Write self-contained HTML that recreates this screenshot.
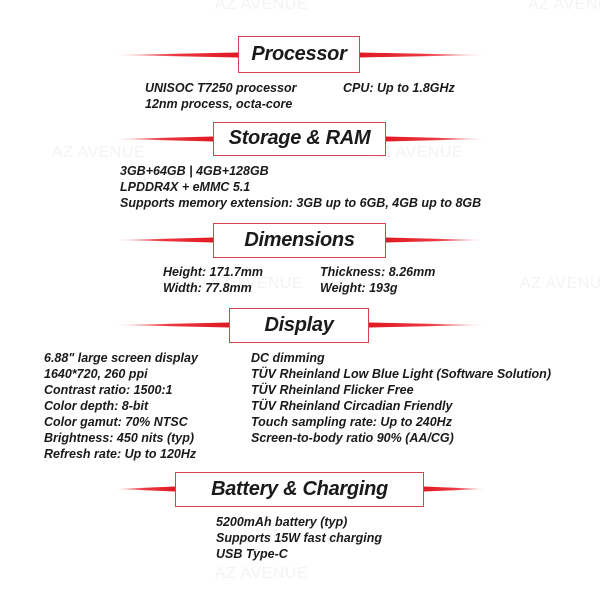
<!DOCTYPE html>
<html><head><meta charset="utf-8"><style>
body{margin:0;width:600px;height:600px;background:#fff;position:relative;overflow:hidden;font-family:"Liberation Sans",sans-serif;}
.t{position:absolute;font-weight:bold;font-style:italic;font-size:12.5px;line-height:16px;color:#1a1a1a;white-space:nowrap;letter-spacing:0px}
.box{position:absolute;border:1.5px solid #d8434f;box-sizing:border-box;background:#fff;text-align:center;font-weight:bold;font-style:italic;font-size:20px;color:#1a1a1a;letter-spacing:-0.3px}
.wm{position:absolute;font-size:16px;color:#f3f3f3;white-space:nowrap;letter-spacing:0.5px}
svg{position:absolute;left:0;top:0}
</style></head><body>
<div class="wm" style="left:215px;top:-4px">AZ AVENUE</div>
<div class="wm" style="left:528px;top:-4px">AZ AVENUE</div>
<div class="wm" style="left:52px;top:144px">AZ AVENUE</div>
<div class="wm" style="left:370px;top:144px">AZ AVENUE</div>
<div class="wm" style="left:210px;top:275px">AZ AVENUE</div>
<div class="wm" style="left:520px;top:275px">AZ AVENUE</div>
<div class="wm" style="left:360px;top:422px">AZ AVENUE</div>
<div class="wm" style="left:215px;top:565px">AZ AVENUE</div>
<svg width="600" height="600">
<defs>
<linearGradient id="gl" x1="0" x2="1"><stop offset="0" stop-color="#e8202a" stop-opacity="0.1"/><stop offset="0.5" stop-color="#e8202a" stop-opacity="0.9"/><stop offset="1" stop-color="#e01a24"/></linearGradient>
<linearGradient id="gr" x1="1" x2="0"><stop offset="0" stop-color="#e8202a" stop-opacity="0.1"/><stop offset="0.5" stop-color="#e8202a" stop-opacity="0.9"/><stop offset="1" stop-color="#e01a24"/></linearGradient>
</defs>
<polygon points="115,55 238,52.5 238,57.5" fill="url(#gl)"/><polygon points="485,55 360,52.5 360,57.5" fill="url(#gr)"/>
<polygon points="115,139 213,136.5 213,141.5" fill="url(#gl)"/><polygon points="485,139 386,136.5 386,141.5" fill="url(#gr)"/>
<polygon points="115,240 213,237.5 213,242.5" fill="url(#gl)"/><polygon points="485,240 386,237.5 386,242.5" fill="url(#gr)"/>
<polygon points="115,325 229,322.5 229,327.5" fill="url(#gl)"/><polygon points="485,325 369,322.5 369,327.5" fill="url(#gr)"/>
<polygon points="115,489 175,486.5 175,491.5" fill="url(#gl)"/><polygon points="485,489 424,486.5 424,491.5" fill="url(#gr)"/>
</svg>
<div class="box" style="left:238px;top:36px;width:122px;height:37px;line-height:34px">Processor</div>
<div class="box" style="left:213px;top:122px;width:173px;height:34px;line-height:31px">Storage &amp; RAM</div>
<div class="box" style="left:213px;top:223px;width:173px;height:35px;line-height:32px">Dimensions</div>
<div class="box" style="left:229px;top:308px;width:140px;height:35px;line-height:32px">Display</div>
<div class="box" style="left:175px;top:472px;width:249px;height:35px;line-height:32px">Battery &amp; Charging</div>

<div class="t" style="left:145px;top:80px">UNISOC T7250 processor<br>12nm process, octa-core</div>
<div class="t" style="left:343px;top:80px">CPU: Up to 1.8GHz</div>
<div class="t" style="left:120px;top:163px">3GB+64GB | 4GB+128GB<br>LPDDR4X + eMMC 5.1<br>Supports memory extension: 3GB up to 6GB, 4GB up to 8GB</div>
<div class="t" style="left:163px;top:264px">Height: 171.7mm<br>Width: 77.8mm</div>
<div class="t" style="left:320px;top:264px">Thickness: 8.26mm<br>Weight: 193g</div>
<div class="t" style="left:44px;top:350px">6.88" large screen display<br>1640*720, 260 ppi<br>Contrast ratio: 1500:1<br>Color depth: 8-bit<br>Color gamut: 70% NTSC<br>Brightness: 450 nits (typ)<br>Refresh rate: Up to 120Hz</div>
<div class="t" style="left:251px;top:350px">DC dimming<br>TÜV Rheinland Low Blue Light (Software Solution)<br>TÜV Rheinland Flicker Free<br>TÜV Rheinland Circadian Friendly<br>Touch sampling rate: Up to 240Hz<br>Screen-to-body ratio 90% (AA/CG)</div>
<div class="t" style="left:216px;top:514px">5200mAh battery (typ)<br>Supports 15W fast charging<br>USB Type-C</div>
</body></html>
